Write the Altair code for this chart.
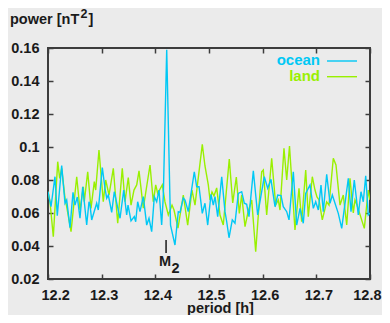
import altair as alt
import pandas as pd

# ---------------- data ----------------
ocean_period = [12.2000, 12.2056, 12.2130, 12.2173, 12.2255, 12.2317, 12.2348, 12.2410, 12.2466, 12.2503,
                12.2546, 12.2596, 12.2647, 12.2721, 12.2764, 12.2783, 12.2814, 12.2907, 12.2937, 12.3012,
                12.3062, 12.3094, 12.3124, 12.3187, 12.3235, 12.3342, 12.3411, 12.3466, 12.3491, 12.3547,
                12.3608, 12.3634, 12.3671, 12.3714, 12.3776, 12.3839, 12.3882, 12.3932, 12.3981, 12.4025,
                12.4068, 12.4118, 12.4148, 12.4212, 12.4283, 12.4311, 12.4366, 12.4428, 12.4460, 12.4521,
                12.4553, 12.4614, 12.4726, 12.4771, 12.4814, 12.4875, 12.4925, 12.4976, 12.5037, 12.5080,
                12.5112, 12.5162, 12.5237, 12.5298, 12.5330, 12.5373, 12.5434, 12.5484, 12.5546, 12.5609,
                12.5658, 12.5702, 12.5745, 12.5826, 12.5907, 12.6030, 12.6094, 12.6155, 12.6230, 12.6280,
                12.6342, 12.6384, 12.6448, 12.6491, 12.6571, 12.6634, 12.6696, 12.6757, 12.6802, 12.6882,
                12.6944, 12.6988, 12.7037, 12.7087, 12.7130, 12.7193, 12.7255, 12.7298, 12.7409, 12.7473,
                12.7596, 12.7646, 12.7707, 12.7782, 12.7832, 12.7875, 12.7920, 12.7968, 12.8000]
ocean_power = [0.0729, 0.0638, 0.0820, 0.0584, 0.0887, 0.0659, 0.0679, 0.0511, 0.0725, 0.0648,
               0.0697, 0.0568, 0.0759, 0.0527, 0.0668, 0.0648, 0.0558, 0.0659, 0.0618, 0.0875,
               0.0750, 0.0689, 0.0709, 0.0604, 0.0729, 0.0568, 0.0739, 0.0588, 0.0648, 0.0552,
               0.0578, 0.0547, 0.0668, 0.0608, 0.0699, 0.0527, 0.0568, 0.0487, 0.0699, 0.0668,
               0.0739, 0.0527, 0.0699, 0.1590, 0.0527, 0.0485, 0.0406, 0.0608, 0.0604, 0.0691,
               0.0679, 0.0608, 0.0850, 0.0759, 0.0759, 0.0598, 0.0659, 0.0527, 0.0713, 0.0648,
               0.0699, 0.0578, 0.0820, 0.0608, 0.0547, 0.0450, 0.0558, 0.0538, 0.0719, 0.0729,
               0.0659, 0.0653, 0.0578, 0.0855, 0.0588, 0.0820, 0.0750, 0.0804, 0.0638, 0.0709,
               0.0705, 0.0638, 0.0608, 0.0558, 0.0850, 0.0527, 0.0628, 0.0538, 0.0719, 0.0770,
               0.0628, 0.0668, 0.0618, 0.0770, 0.0608, 0.0835, 0.0659, 0.0709, 0.0598, 0.0507,
               0.0810, 0.0608, 0.0800, 0.0588, 0.0729, 0.0668, 0.0826, 0.0588, 0.0600]

land_period = [12.2000, 12.2037, 12.2099, 12.2181, 12.2218, 12.2255, 12.2317, 12.2348, 12.2429, 12.2535,
               12.2596, 12.2658, 12.2676, 12.2740, 12.2801, 12.2863, 12.2889, 12.2950, 12.3030, 12.3075,
               12.3137, 12.3217, 12.3299, 12.3384, 12.3435, 12.3496, 12.3547, 12.3602, 12.3653, 12.3696,
               12.3776, 12.3901, 12.3962, 12.4007, 12.4044, 12.4130, 12.4180, 12.4242, 12.4311, 12.4348,
               12.4422, 12.4521, 12.4603, 12.4683, 12.4739, 12.4875, 12.4925, 12.4987, 12.5019, 12.5056,
               12.5093, 12.5143, 12.5205, 12.5266, 12.5378, 12.5442, 12.5509, 12.5565, 12.5609, 12.5671,
               12.5727, 12.5796, 12.5870, 12.5932, 12.5982, 12.6012, 12.6075, 12.6168, 12.6243, 12.6291,
               12.6323, 12.6397, 12.6448, 12.6500, 12.6602, 12.6677, 12.6727, 12.6802, 12.6850, 12.6925,
               12.6975, 12.7012, 12.7050, 12.7111, 12.7193, 12.7236, 12.7316, 12.7366, 12.7441, 12.7502,
               12.7566, 12.7627, 12.7689, 12.7720, 12.7758, 12.7894, 12.7968, 12.8000]
land_power = [0.0729, 0.0668, 0.0456, 0.0911, 0.0810, 0.0871, 0.0689, 0.0638, 0.0487, 0.0820,
              0.0618, 0.0759, 0.0668, 0.0850, 0.0628, 0.0790, 0.0739, 0.0982, 0.0668, 0.0800,
              0.0709, 0.0871, 0.0538, 0.0871, 0.0668, 0.0814, 0.0648, 0.0739, 0.0770, 0.0855,
              0.0630, 0.0891, 0.0668, 0.0770, 0.0719, 0.0770, 0.0667, 0.0588, 0.0648, 0.0618,
              0.0509, 0.0709, 0.0527, 0.0739, 0.0648, 0.1016, 0.0885, 0.0770, 0.0679, 0.0727,
              0.0703, 0.0752, 0.0588, 0.0527, 0.0927, 0.0661, 0.0818, 0.0598, 0.0709, 0.0517,
              0.0606, 0.0679, 0.0365, 0.0648, 0.0850, 0.0861, 0.0588, 0.0932, 0.0648, 0.0679,
              0.0618, 0.0992, 0.0800, 0.1006, 0.0497, 0.0750, 0.0547, 0.0861, 0.0578, 0.0820,
              0.0739, 0.0697, 0.0679, 0.0558, 0.0667, 0.0648, 0.0932, 0.0891, 0.0648, 0.0709,
              0.0527, 0.0810, 0.0600, 0.0679, 0.0648, 0.0507, 0.0739, 0.0679]

series_names = ["ocean", "land"]
series_colors = ["#00c8f5", "#99f000"]
x_ticks = [12.2, 12.3, 12.4, 12.5, 12.6, 12.7, 12.8]
y_ticks = [0.02, 0.04, 0.06, 0.08, 0.10, 0.12, 0.14, 0.16]
m2_period = [12.42]
m2_label = ["M", "2"]
y_title_parts = ["power [nT", "2", "]"]
x_title = "period [h]"

# ---------------- styling ----------------
W, H = 322, 231
FONT = "Liberation Sans"
INK = "#1a1a1a"
FRAME = "#3c3c3c"
BG = "#ebebeb"
FS = 14.5

ocean = pd.DataFrame({"period": ocean_period, "power": ocean_power})
land = pd.DataFrame({"period": land_period, "power": land_power})
m2 = pd.DataFrame({"period": m2_period})

xscale = alt.Scale(domain=[12.2, 12.8], nice=False, zero=False)
yscale = alt.Scale(domain=[0.02, 0.16], nice=False, zero=False)


def tick_axis(orient, offset, values):
    return alt.Axis(orient=orient, offset=offset, values=values, labels=False,
                    domain=False, grid=False, ticks=True, tickSize=5,
                    tickWidth=1.5, tickColor=FRAME, title=None)


x_label_axis = alt.Axis(orient="bottom", values=x_ticks, format=".1f", domain=False,
                        grid=False, ticks=False, tickSize=0, labelPadding=9, labelOffset=2,
                        labelFlush=True, labelFlushOffset=9, labelOverlap=False,
                        labelFont=FONT, labelFontSize=FS, labelFontWeight="bold",
                        labelColor=INK, title=x_title, titleFont=FONT,
                        titleFontSize=FS, titleFontWeight="bold", titleColor=INK,
                        titleX=172, titleY=33, titleAlign="center",
                        titleBaseline="alphabetic")
y_label_axis = alt.Axis(orient="left", values=y_ticks, format=".2~f", domain=False,
                        grid=False, ticks=False, tickSize=0, labelPadding=9,
                        labelFlush=False, labelOverlap=False,
                        labelFont=FONT, labelFontSize=FS, labelFontWeight="bold",
                        labelColor=INK, labelBaseline="middle", title=None)

land_line = alt.Chart(land).mark_line(color=series_colors[1], strokeWidth=1.4, clip=True).encode(
    x=alt.X("period:Q", scale=xscale, axis=tick_axis("top", -H, x_ticks)),
    y=alt.Y("power:Q", scale=yscale, axis=tick_axis("right", -W, y_ticks)),
)
ocean_line = alt.Chart(ocean).mark_line(color=series_colors[0], strokeWidth=1.4, clip=True).encode(
    x=alt.X("period:Q", scale=xscale, axis=x_label_axis),
    y=alt.Y("power:Q", scale=yscale, axis=y_label_axis),
)
ticks_layer = alt.Chart(ocean).mark_line(opacity=0).encode(
    x=alt.X("period:Q", scale=xscale, axis=tick_axis("bottom", -H, x_ticks)),
    y=alt.Y("power:Q", scale=yscale, axis=tick_axis("left", -W, y_ticks)),
)

m2_tick = alt.Chart(m2).mark_rule(color=INK, strokeWidth=1.5).encode(
    x=alt.X("period:Q", scale=xscale, axis=None),
    y=alt.value(192), y2=alt.value(205),
)
m2_main = alt.Chart(m2).mark_text(text=m2_label[0], font=FONT, fontSize=FS, fontWeight="bold",
                                   align="center", baseline="alphabetic", dx=-1, color=INK).encode(
    x=alt.X("period:Q", scale=xscale, axis=None), y=alt.value(218))
m2_sub = alt.Chart(m2).mark_text(text=m2_label[1], font=FONT, fontSize=FS, fontWeight="bold",
                                  align="left", baseline="alphabetic", dx=5.5, color=INK).encode(
    x=alt.X("period:Q", scale=xscale, axis=None), y=alt.value(225))

# y-axis title with a real superscript
title_df = pd.DataFrame({"t": y_title_parts})
title_layers = [
    alt.Chart(title_df.iloc[[0]]).mark_text(font=FONT, fontSize=FS, fontWeight="bold", align="left",
                                            baseline="alphabetic", color=INK).encode(
        x=alt.value(-38), y=alt.value(-24), text="t:N"),
    alt.Chart(title_df.iloc[[1]]).mark_text(font=FONT, fontSize=12.5, fontWeight="bold", align="left",
                                            baseline="alphabetic", color=INK).encode(
        x=alt.value(32.5), y=alt.value(-30), text="t:N"),
    alt.Chart(title_df.iloc[[2]]).mark_text(font=FONT, fontSize=FS, fontWeight="bold", align="left",
                                            baseline="alphabetic", color=INK).encode(
        x=alt.value(40.5), y=alt.value(-24), text="t:N"),
]

legend_layers = []
for i, (name, col) in enumerate(zip(series_names, series_colors)):
    one = pd.DataFrame({"name": [name]})
    legend_layers.append(
        alt.Chart(one).mark_text(font=FONT, fontSize=15, fontWeight="bold", align="right",
                                 baseline="alphabetic", color=col).encode(
            x=alt.value(272), y=alt.value(17 + 16 * i), text="name:N"))
    legend_layers.append(
        alt.Chart(one).mark_rule(color=col, strokeWidth=1.4).encode(
            x=alt.value(279), x2=alt.value(309), y=alt.value(13 + 15.7 * i)))

chart = alt.layer(land_line, ocean_line, ticks_layer, m2_tick, m2_main, m2_sub,
                  *title_layers, *legend_layers).resolve_axis(
    x="independent", y="independent"
).properties(
    width=W, height=H,
    padding={"left": 40, "top": 40, "right": 12, "bottom": 36},
    autosize=alt.AutoSizeParams(type="none"),
    background=BG,
).configure_view(stroke=FRAME, strokeWidth=2)

chart.save("out.html", embed_options={"renderer": "svg", "actions": False})
